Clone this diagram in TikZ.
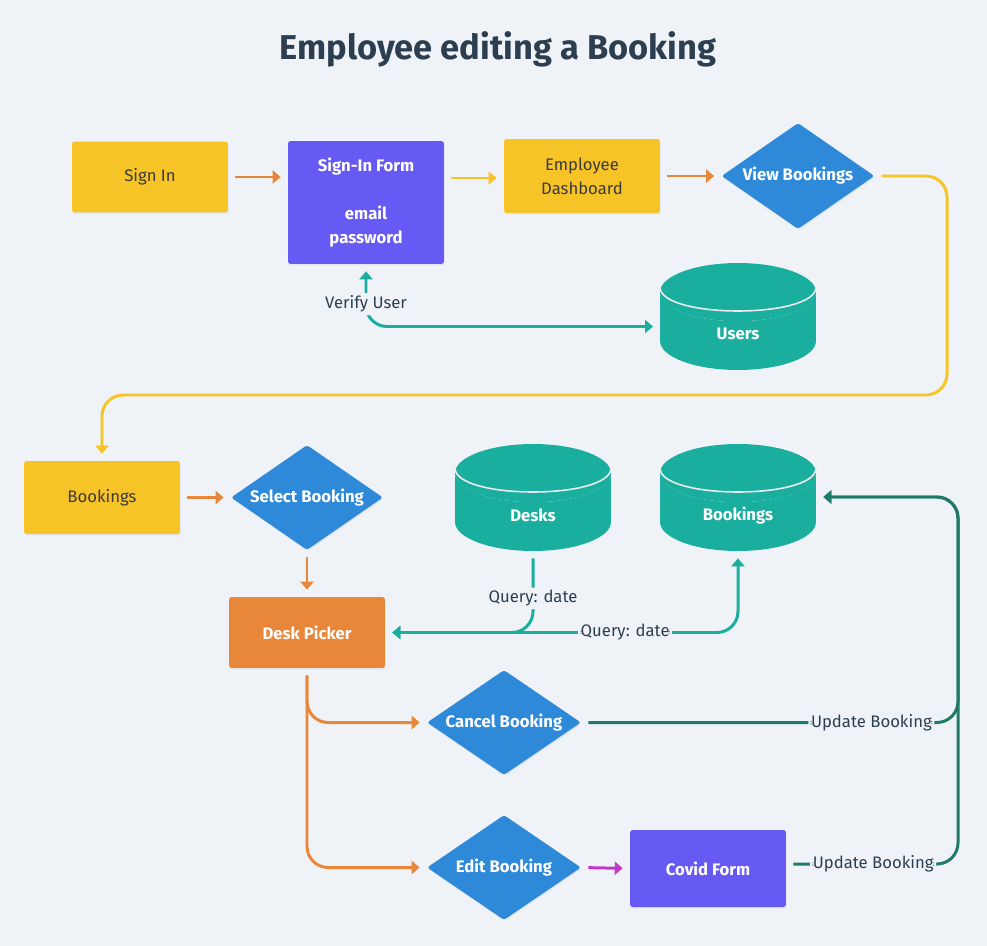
\documentclass[tikz,border=0pt]{standalone}
\usepackage{fontspec}
\setmainfont{Fira Sans}
\usetikzlibrary{arrows.meta,positioning,shapes.geometric,shadows,calc}

\definecolor{bgc}{HTML}{EFF3F7}
\definecolor{cyellow}{HTML}{F7C427}
\definecolor{cpurple}{HTML}{6659F4}
\definecolor{cblue}{HTML}{2E89D9}
\definecolor{cteal}{HTML}{1AAE9F}
\definecolor{corange}{HTML}{E8863A}
\definecolor{cdark}{HTML}{1F7A69}
\definecolor{cmagenta}{HTML}{C137C9}
\definecolor{ctitle}{HTML}{2C3E50}
\definecolor{ctext}{HTML}{3A3A3A}

\newcommand{\dblabel}[1]{\makebox[0.9cm]{#1}}

\tikzset{
  nodefont/.style={font=\fontsize{9.5}{13.6}\selectfont},
  shade/.style={drop shadow={opacity=0.12, shadow xshift=0.4pt, shadow yshift=-0.8pt}},
  box/.style={rectangle, rounded corners=1.5pt, minimum width=3.12cm, minimum height=1.42cm,
    align=center, nodefont, shade},
  yellowbox/.style={box, fill=cyellow, text=ctext},
  purplebox/.style={box, fill=cpurple, text=white, font=\fontsize{9.5}{13.6}\selectfont\bfseries},
  orangebox/.style={box, fill=corange, text=white, font=\fontsize{9.5}{13.6}\selectfont\bfseries},
  decision/.style={diamond, shape aspect=1.44, rounded corners=1.5pt, fill=cblue, text=white, inner sep=0pt,
    minimum width=3.06cm, minimum height=2.12cm, font=\fontsize{9.5}{13.6}\selectfont\bfseries, shade},
  db/.style={cylinder, shape border rotate=90, aspect=1.2, anchor=shape center, inner sep=1pt,
    minimum width=3.12cm, minimum height=2.14cm,
    cylinder uses custom fill, cylinder body fill=cteal, cylinder end fill=cteal,
    text=white, font=\fontsize{9.5}{13.6}\selectfont\bfseries},
  rim/.style={draw=white!85!gray, line width=0.9pt},
  flow/.style={line width=1.7pt, rounded corners=7pt, shorten >=4pt, shorten <=4pt,
    -{Triangle[length=4.5pt, width=7.4pt]}},
  twoway/.style={flow, {Triangle[length=4.5pt, width=7.4pt]}-{Triangle[length=4.5pt, width=7.4pt]}},
  tag/.style={fill=bgc, text=ctitle, inner sep=1.5pt, nodefont}
}

\begin{document}
\begin{tikzpicture}[x=0.02cm, y=-0.02cm]
  \fill[bgc] (0,0) rectangle (987,946);
  \useasboundingbox (0,0) rectangle (987,946);

  \node[text=ctitle, font=\fontsize{19.6}{24}\selectfont\bfseries] (title) at (498,49) {Employee editing a Booking};

  % top row
  \node[yellowbox] (signin) at (150,177) {Sign In};
  \node[purplebox, minimum height=2.46cm] (form) at (366,202.5) {Sign-In Form\\[13.6pt]email\\password};
  \node[yellowbox, minimum height=1.48cm] (dash) at (582,176) {Employee\\Dashboard};
  \node[decision] (view) at (798,176) {View Bookings};
  \node[db] (users) at (738,316.5) {\dblabel{Users}};

  % lower part
  \node[yellowbox, minimum height=1.46cm] (bookings) at (102,497.5) {Bookings};
  \node[decision, minimum width=3.04cm, minimum height=2.1cm] (select) at (307,497.5) {Select Booking};
  \node[db] (desks) at (533,497.5) {\dblabel{Desks}};
  \node[db] (bookdb) at (738,497.5) {\dblabel{Bookings}};
  \node[orangebox] (picker) at (307,632.5) {Desk Picker};
  \node[decision, minimum width=3.08cm, minimum height=2.1cm] (cancel) at (504,722.5) {Cancel Booking};
  \node[decision, minimum width=3.08cm, minimum height=2.1cm] (edit) at (504,867.5) {Edit Booking};
  \node[purplebox, minimum height=1.54cm] (covid) at (708,868.5) {Covid Form};

  % rims of the database tops
  \foreach \d in {users,desks,bookdb}
    \draw[rim] ($(\d.shape center)+(-78,-29.5)$) .. controls +(0,32) and +(0,32) .. ($(\d.shape center)+(78,-29.5)$);

  \coordinate (loopR) at (947,395);
  \coordinate (updR) at (958,497);

  \draw[flow, corange] (signin.east) -- (signin.east -| form.west);
  \draw[flow, cyellow] (form.east |- 0,178) -- (dash.west |- 0,178);
  \draw[flow, corange] (dash.east) -- (view.west);
  \draw[flow, cyellow, rounded corners=12pt] (view.east) -| (loopR) -| (bookings.north);
  \draw[twoway, cteal, rounded corners=12pt] (form.south) |- node[tag, pos=0.32] {Verify User} ($(users.shape center)+(-78,10)$);

  \draw[flow, corange] (bookings.east) -- (select.west);
  \draw[flow, corange] (select.south) -- (picker.north);
  \draw[flow, cteal, rounded corners=12pt] (desks.south) |- node[tag, pos=0.29] {Query: date} (picker.east);
  \draw[twoway, cteal, rounded corners=12pt] (bookdb.south) |- node[tag, pos=0.66] {Query: date} (picker.east);
  \draw[flow, corange, rounded corners=12pt] (picker.south) |- (cancel.west);
  \draw[flow, corange, rounded corners=12pt] (picker.south) |- (edit.west);
  \draw[flow, cmagenta] (edit.east) -- (covid.west);
  \draw[flow, cdark, rounded corners=12pt] (cancel.east) -| node[tag, pos=0.385] {Update Booking} (updR) -- (updR -| bookdb.east);
  \draw[flow, cdark, rounded corners=12pt] (covid.east |- 0,864) -| node[tag, pos=0.253] {Update Booking} (updR) -- (updR -| bookdb.east);
\end{tikzpicture}
\end{document}
